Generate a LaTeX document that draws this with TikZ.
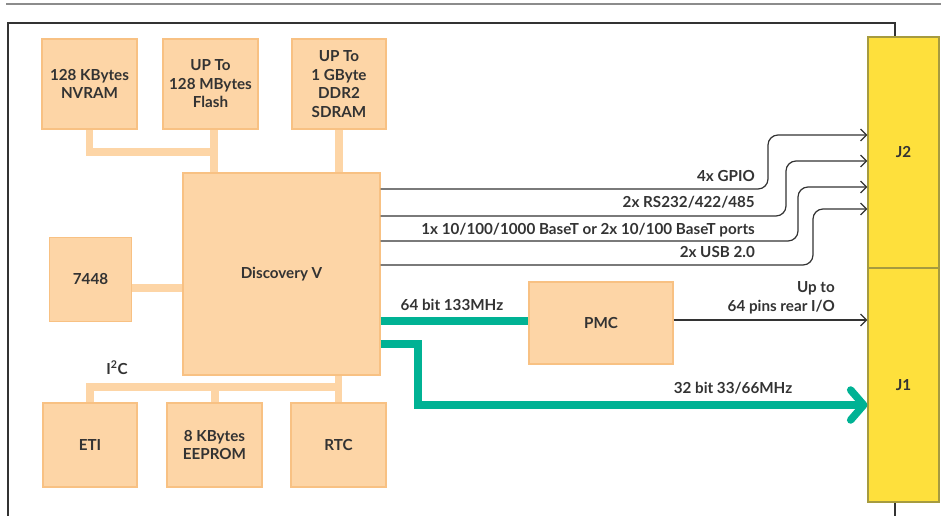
\documentclass[tikz,border=0pt]{standalone}
\usepackage{fontspec}
\setmainfont{Lato}
\usetikzlibrary{arrows.meta,backgrounds}

\definecolor{boxfill}{HTML}{FDD5A6}
\definecolor{boxedge}{HTML}{F8C183}
\definecolor{jfill}{HTML}{FEE03C}
\definecolor{jedge}{HTML}{A69B3F}
\definecolor{busgreen}{HTML}{00B294}
\definecolor{txt}{HTML}{333333}

\tikzset{
  blk/.style={draw=boxedge, fill=boxfill, line width=1.2pt, align=center, inner sep=0pt, text=txt},
  conn/.style={draw=jedge, fill=jfill, line width=1.2pt, minimum width=71pt, inner sep=0pt, text=txt},
  bus/.style={draw=boxfill, line width=7.5pt},
  sig/.style={draw=txt, line width=1.2pt, rounded corners=10pt, -{Straight Barb[length=6pt,width=12pt]}},
  pci/.style={draw=busgreen, line width=7.5pt, line join=miter},
  lbl/.style={text=txt, inner sep=0pt},
}

\begin{document}
\begin{tikzpicture}[x=1pt, y=-1pt, font=\fontsize{15.2}{18.5}\selectfont\bfseries]
  \useasboundingbox (0,0) rectangle (945,516);
  \draw[gray!90, line width=2pt] (6,4) -- (941,4);
  \draw[txt, line width=1.5pt] (8,516) |- (895,23) -- (895,516);

  \node[blk, minimum width=95pt, minimum height=90pt] (nvram) at (89.5,84) {128 KBytes\\NVRAM};
  \node[blk, minimum width=95pt, minimum height=90pt] (flash) at (210.5,84) {UP To\\128 MBytes\\Flash};
  \node[blk, minimum width=94pt, minimum height=90pt] (ddr) at (339,84) {UP To\\1 GByte\\DDR2\\SDRAM};
  \node[blk, minimum width=197pt, minimum height=202pt] (disc) at (281.5,274) {Discovery V};
  \node[blk, minimum width=82pt, minimum height=84pt] (cpu7448) at (90.5,279.5) {7448};
  \node[blk, minimum width=144pt, minimum height=82pt] (pmc) at (601,323) {PMC};
  \node[blk, minimum width=94pt, minimum height=84pt] (eti) at (90,445) {ETI};
  \node[blk, minimum width=95pt, minimum height=84pt] (eeprom) at (214.5,445) {8 KBytes\\EEPROM};
  \node[blk, minimum width=95pt, minimum height=84pt] (rtc) at (338.5,445) {RTC};
  \node[conn, minimum height=231pt] (j2) at (903.5,152.5) {J2};
  \node[conn, minimum height=234pt] (j1) at (903.5,385) {J1};

  \begin{scope}[on background layer]
    \draw[bus] (nvram.south) |- (214,152);
    \draw[bus] (flash.south -| 214,0) -- (disc.north -| 214,0);
    \draw[bus] (ddr.south) -- (ddr.south |- disc.north);
    \draw[bus] (cpu7448.east |- 0,288) -- (disc.west |- 0,288);
    \draw[bus] (disc.south -| rtc.north) -- (rtc.north);
    \draw[bus] (eti.north) |- (rtc.north |- 0,387);
    \draw[bus] (eeprom.north -| 215,0) -- (215,387);
  \end{scope}
  \node[lbl, anchor=base] (i2c) at (117,374) {I\textsuperscript{2}C};

  \foreach \ys/\xv/\yt/\yb/\txt in {189/768/135/182/{4x GPIO},
      216/786/161/207/{2x RS232/422/485},
      241/798/187/234/{1x 10/100/1000 BaseT or 2x 10/100 BaseT ports},
      265/813/209/257/{2x USB 2.0}} {
    \draw[sig] (disc.east |- 0,\ys) -| (\xv,\yt) -- (j2.west |- 0,\yt);
    \node[lbl, anchor=base east] (lab\ys) at (755,\yb) {\txt};
  }

  \draw[sig] (pmc.east |- 0,320) -- (j1.west |- 0,320);
  \node[lbl, align=right, anchor=east] (rear) at (835,298) {Up to\\64 pins rear I/O};

  \draw[pci] (disc.east |- 0,321) -- (pmc.west |- 0,321);
  \node[lbl, anchor=base] (pmcbus) at (452,310) {64 bit 133MHz};
  \draw[pci, -{Straight Barb[length=13pt,width=30pt,round]}] (disc.east |- 0,344) -| (418,405) -- (j1.west |- 0,405);
  \node[lbl, anchor=base] (pcibus) at (733,393) {32 bit 33/66MHz};
\end{tikzpicture}
\end{document}
